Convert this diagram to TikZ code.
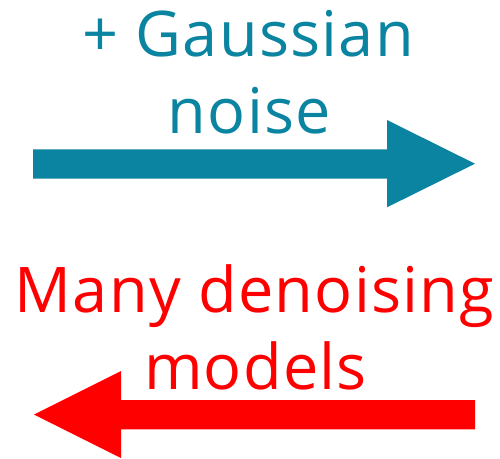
\documentclass[tikz,border=0pt]{standalone}
\usepackage{fontspec}
\setmainfont[LetterSpace=2]{Open Sans}
\definecolor{tealc}{HTML}{0A84A0}
\definecolor{redc}{HTML}{FF0000}
\begin{document}
\begin{tikzpicture}[x=1pt,y=-1pt,
  lbl/.style={inner sep=0pt,anchor=base,font=\fontsize{63}{77}\selectfont}]
\useasboundingbox (0,0) rectangle (500,458);
% top arrow
\fill[tealc] (33,149.3) -- (387,149.3) -- (387,120) -- (475,163.7) -- (387,207.3) -- (387,178.7) -- (33,178.7) -- cycle;
\node[lbl,text=tealc] (g1) at (248,56) {+ Gaussian};
\node[lbl,text=tealc] (g2) at (249.5,133) {noise};
% bottom arrow
\fill[redc] (475,400) -- (121,400) -- (121,371) -- (34,414.5) -- (121,458) -- (121,429.3) -- (475,429.3) -- cycle;
\node[lbl,text=redc] (m1) at (254.5,312) {Many denoising};
\node[lbl,text=redc] (m2) at (255.5,389) {models};
\end{tikzpicture}
\end{document}
